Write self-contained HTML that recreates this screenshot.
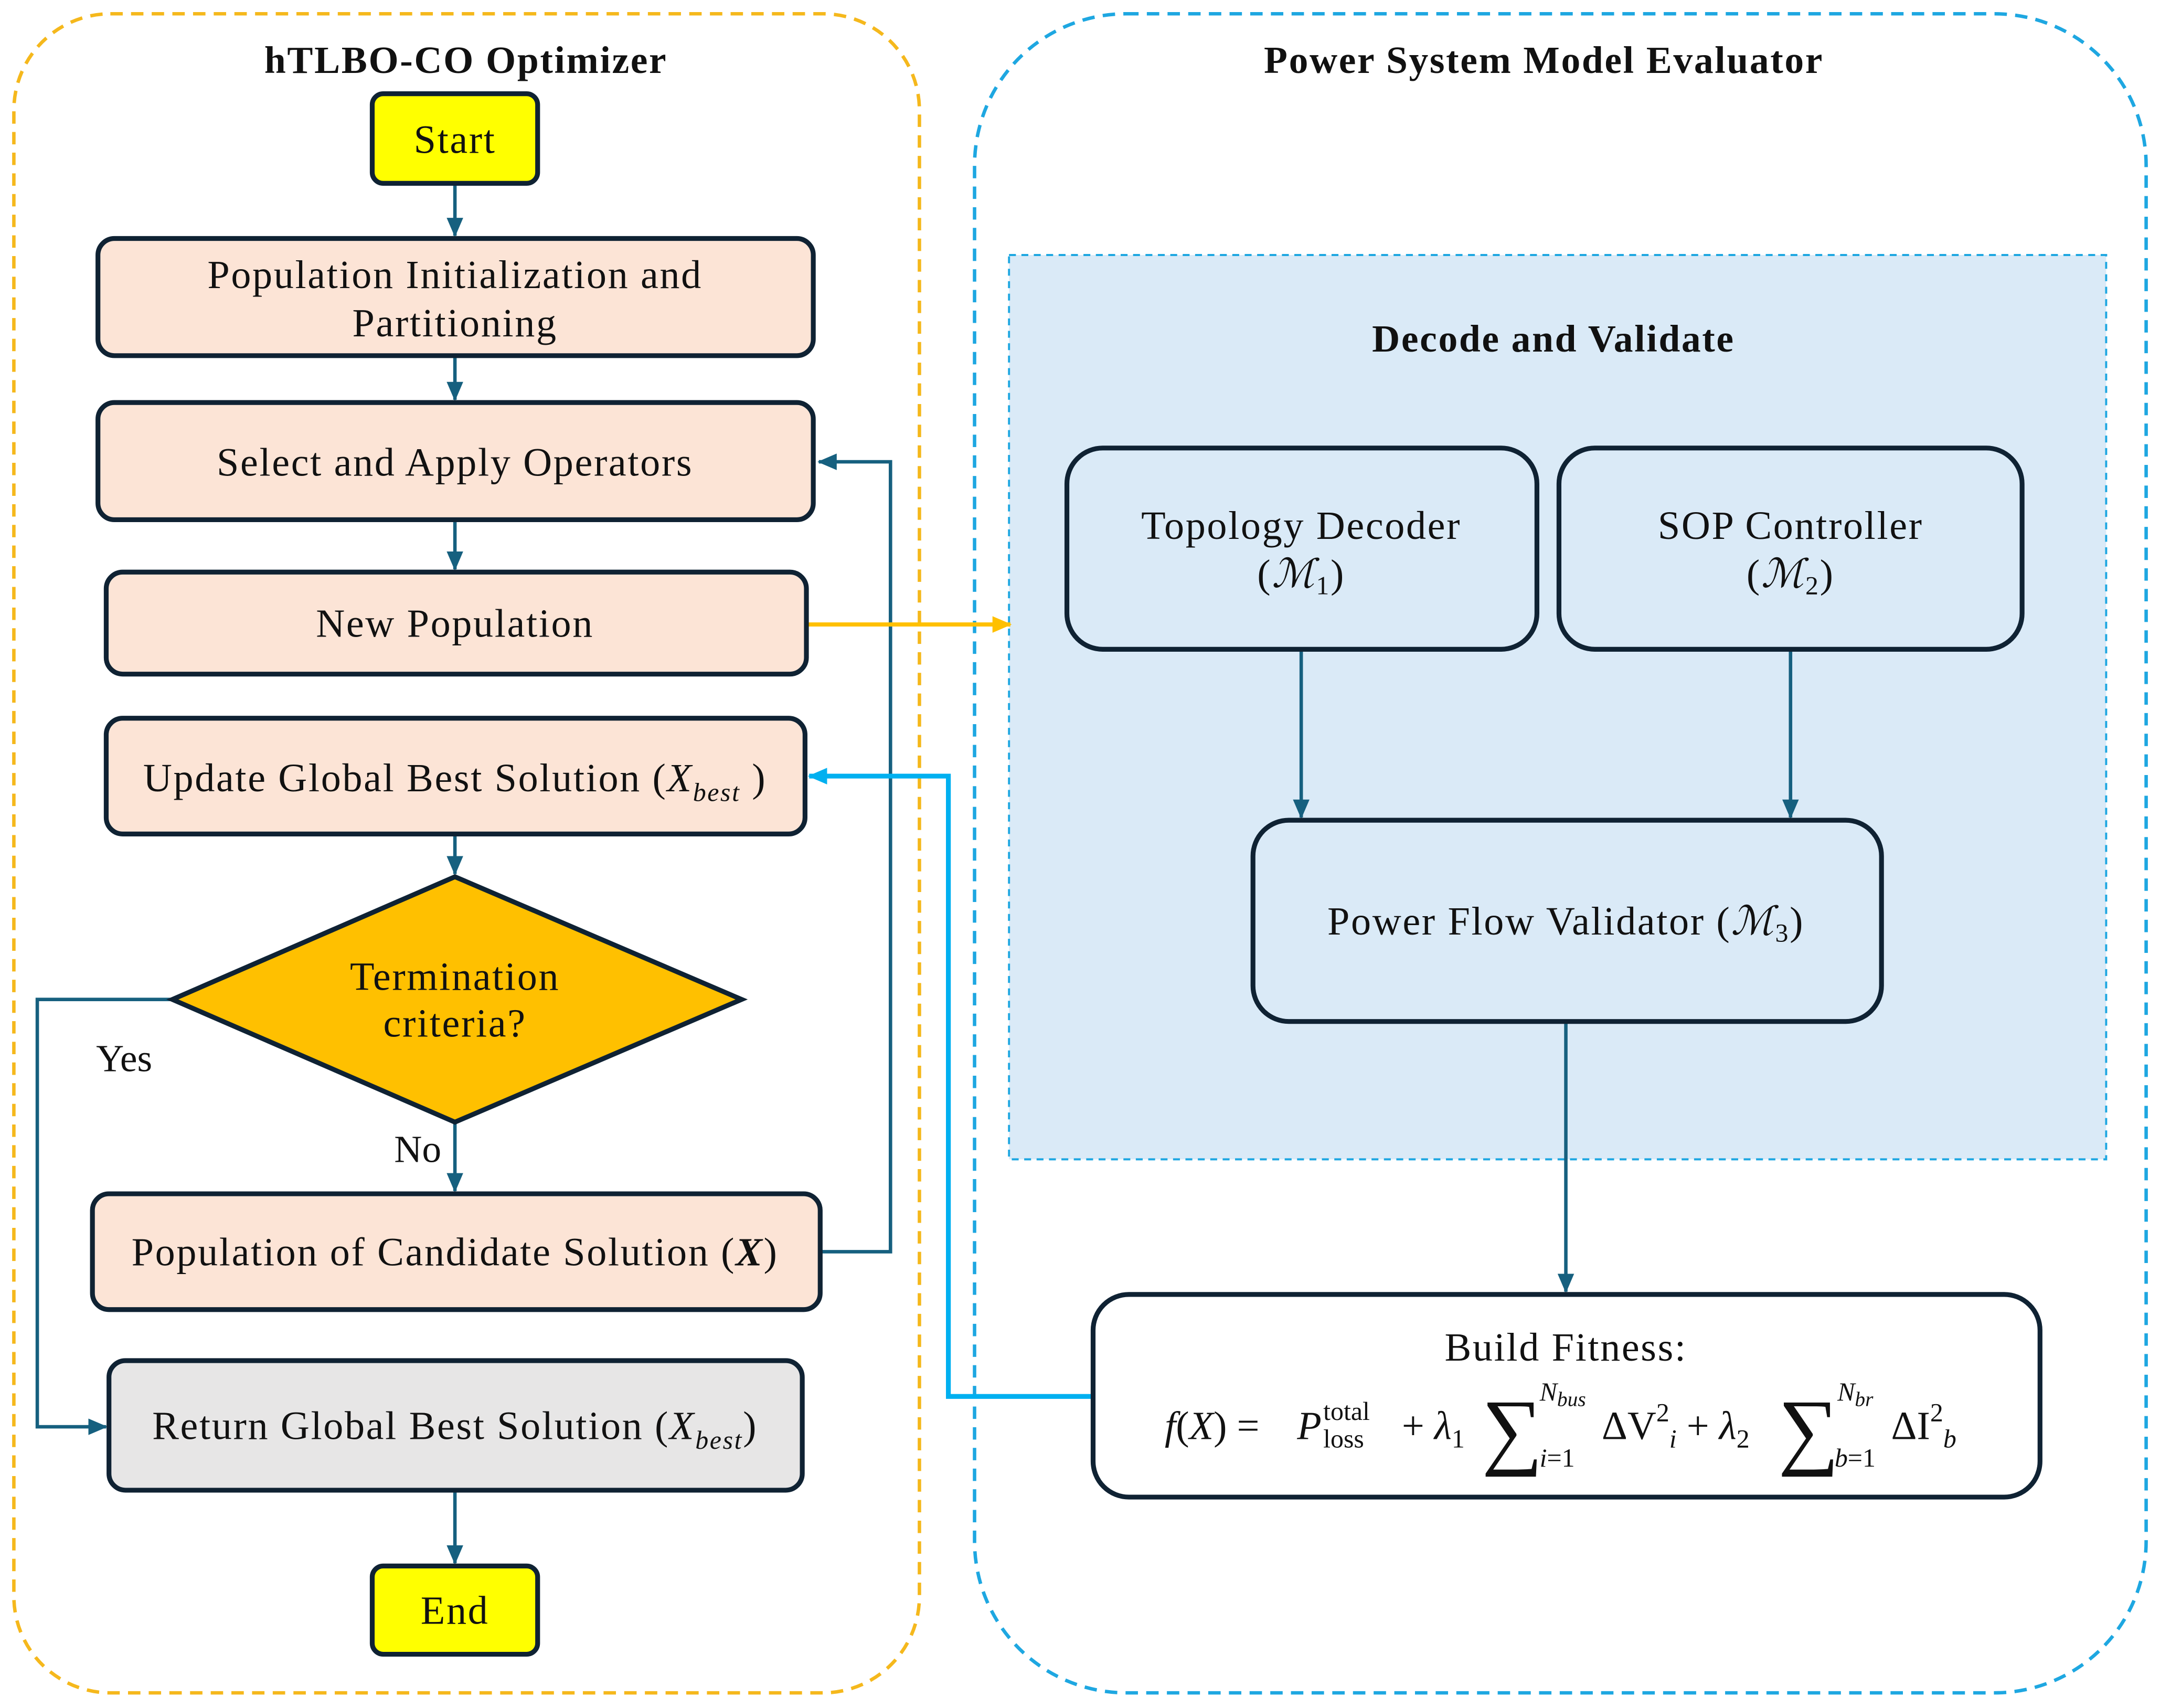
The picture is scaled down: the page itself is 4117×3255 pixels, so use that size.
<!DOCTYPE html>
<html><head><meta charset="utf-8"><style>
html,body{margin:0;padding:0;background:#fff;}
svg{display:block;}
text{font-family:"Liberation Serif",serif;fill:#111;}
</style></head><body>
<svg width="4117" height="3255" viewBox="0 0 1567 1239" xmlns="http://www.w3.org/2000/svg">
<defs>
<marker id="ab" markerWidth="14" markerHeight="12" refX="13" refY="6" orient="auto" markerUnits="userSpaceOnUse"><path d="M0,0 L14,6 L0,12 Z" fill="#00b0f0"/></marker>
<marker id="ao" markerWidth="14" markerHeight="12" refX="13" refY="6" orient="auto" markerUnits="userSpaceOnUse"><path d="M0,0 L14,6 L0,12 Z" fill="#ffc000"/></marker>
<marker id="a2" markerWidth="14" markerHeight="12" refX="13" refY="6" orient="auto" markerUnits="userSpaceOnUse"><path d="M0,0 L14,6 L0,12 Z" fill="#16607f"/></marker>
</defs>
<rect x="10" y="10" width="657" height="1218" rx="70" fill="none" stroke="#f5b81c" stroke-width="2.5" stroke-dasharray="9,6"/>
<rect x="707" y="10" width="850" height="1218" rx="110" fill="none" stroke="#1ea7e1" stroke-width="2.5" stroke-dasharray="9,6"/>
<g font-size="28" font-weight="bold" text-anchor="middle" letter-spacing="1">
<text x="338" y="53">hTLBO-CO Optimizer</text>
<text x="1120" y="53">Power System Model Evaluator</text>
</g>
<rect x="732" y="185" width="796" height="656" fill="#daeaf7" stroke="#1ea7e1" stroke-width="1.5" stroke-dasharray="5,4"/>
<text x="1127" y="255" font-size="28" font-weight="bold" text-anchor="middle" letter-spacing="1">Decode and Validate</text>

<g stroke="#16607f" stroke-width="2.5" fill="none">
<line x1="330" y1="133" x2="330" y2="171" marker-end="url(#a2)"/>
<line x1="330" y1="258" x2="330" y2="290" marker-end="url(#a2)"/>
<line x1="330" y1="377" x2="330" y2="413" marker-end="url(#a2)"/>
<line x1="330" y1="605" x2="330" y2="634" marker-end="url(#a2)"/>
<line x1="330" y1="814" x2="330" y2="864" marker-end="url(#a2)"/>
<line x1="330" y1="1081" x2="330" y2="1134" marker-end="url(#a2)"/>
<polyline points="595,908 646,908 646,335 594,335" marker-end="url(#a2)"/>
<polyline points="125,725 27,725 27,1035 77,1035" marker-end="url(#a2)"/>
<line x1="944" y1="471" x2="944" y2="593" marker-end="url(#a2)"/>
<line x1="1299" y1="471" x2="1299" y2="593" marker-end="url(#a2)"/>
<line x1="1136" y1="741" x2="1136" y2="937" marker-end="url(#a2)"/>
</g>
<line x1="585" y1="453" x2="733" y2="453" stroke="#ffc000" stroke-width="3" marker-end="url(#ao)"/>
<polyline points="793,1013 688,1013 688,563 587,563" fill="none" stroke="#00b0f0" stroke-width="3.5" marker-end="url(#ab)"/>

<g stroke="#0f2233" stroke-width="3.5">
<rect x="270" y="68" width="120" height="65" rx="8" fill="#ffff00"/>
<rect x="71" y="173" width="519" height="85" rx="12" fill="#fce4d6"/>
<rect x="71" y="292" width="519" height="85" rx="12" fill="#fce4d6"/>
<rect x="77" y="415" width="508" height="74" rx="12" fill="#fce4d6"/>
<rect x="77" y="521" width="507" height="84" rx="12" fill="#fce4d6"/>
<polygon points="125,725 330,636 538,725 330,814" fill="#ffc000"/>
<rect x="67" y="866" width="528" height="84" rx="12" fill="#fce4d6"/>
<rect x="79" y="987" width="503" height="94" rx="12" fill="#e7e6e6"/>
<rect x="270" y="1136" width="120" height="64" rx="8" fill="#ffff00"/>
<rect x="774" y="325" width="341" height="146" rx="26" fill="#daeaf7"/>
<rect x="1131" y="325" width="336" height="146" rx="26" fill="#daeaf7"/>
<rect x="909" y="595" width="456" height="146" rx="26" fill="#daeaf7"/>
<rect x="793" y="939" width="687" height="147" rx="26" fill="#fff"/>
</g>

<g font-size="29" text-anchor="middle" letter-spacing="1">
<text x="330" y="209">Population Initialization and</text>
<text x="330" y="244">Partitioning</text>
<text x="330" y="345">Select and Apply Operators</text>
<text x="330" y="462">New Population</text>
<text x="330" y="574">Update Global Best Solution (<tspan font-style="italic">X</tspan><tspan font-style="italic" font-size="19" dy="7">best</tspan><tspan dy="-7"> )</tspan></text>
<text x="330" y="718">Termination</text>
<text x="330" y="752">criteria?</text>
<text x="330" y="918">Population of Candidate Solution (<tspan font-style="italic" font-weight="bold">X</tspan>)</text>
<text x="330" y="1044">Return Global Best Solution (<tspan font-style="italic">X</tspan><tspan font-style="italic" font-size="19" dy="7">best</tspan><tspan dy="-7">)</tspan></text>
<text x="944" y="391">Topology Decoder</text>
<text x="944" y="426">(<tspan font-style="italic">ℳ</tspan><tspan font-size="19" dy="5">1</tspan><tspan dy="-5">)</tspan></text>
<text x="1299" y="391">SOP Controller</text>
<text x="1299" y="426">(<tspan font-style="italic">ℳ</tspan><tspan font-size="19" dy="5">2</tspan><tspan dy="-5">)</tspan></text>
<text x="1136" y="678">Power Flow Validator (<tspan font-style="italic">ℳ</tspan><tspan font-size="19" dy="5">3</tspan><tspan dy="-5">)</tspan></text>
<text x="1136" y="987">Build Fitness:</text>
<text x="330" y="111">Start</text>
<text x="330" y="1178">End</text>
</g>
<text x="90" y="777" font-size="28" text-anchor="middle">Yes</text>
<text x="303" y="843" font-size="28" text-anchor="middle">No</text>

<g font-size="29">
<text x="845" y="1044"><tspan font-style="italic">f</tspan>(<tspan font-style="italic">X</tspan>) = </text>
<text x="941" y="1044" font-style="italic">P</text>
<text x="960" y="1030" font-size="19">total</text>
<text x="960" y="1050" font-size="19">loss</text>
<text x="1017" y="1044">+ <tspan font-style="italic">λ</tspan><tspan font-size="19" dy="6">1</tspan></text>
<text x="1075" y="1058" font-size="62">∑</text>
<text x="1117" y="1016" font-size="19" font-style="italic">N<tspan font-size="15" dy="4">bus</tspan></text>
<text x="1117" y="1064" font-size="19"><tspan font-style="italic">i</tspan>=1</text>
<text x="1162" y="1044">ΔV<tspan font-size="19" dy="-13">2</tspan><tspan font-size="19" dy="19" font-style="italic">i</tspan><tspan dy="-6"> + </tspan><tspan font-style="italic">λ</tspan><tspan font-size="19" dy="6">2</tspan></text>
<text x="1290" y="1058" font-size="62">∑</text>
<text x="1333" y="1016" font-size="19" font-style="italic">N<tspan font-size="15" dy="4">br</tspan></text>
<text x="1331" y="1064" font-size="19"><tspan font-style="italic">b</tspan>=1</text>
<text x="1372" y="1044">ΔI<tspan font-size="19" dy="-13">2</tspan><tspan font-size="19" dy="19" font-style="italic">b</tspan></text>
</g>
</svg>
</body></html>
